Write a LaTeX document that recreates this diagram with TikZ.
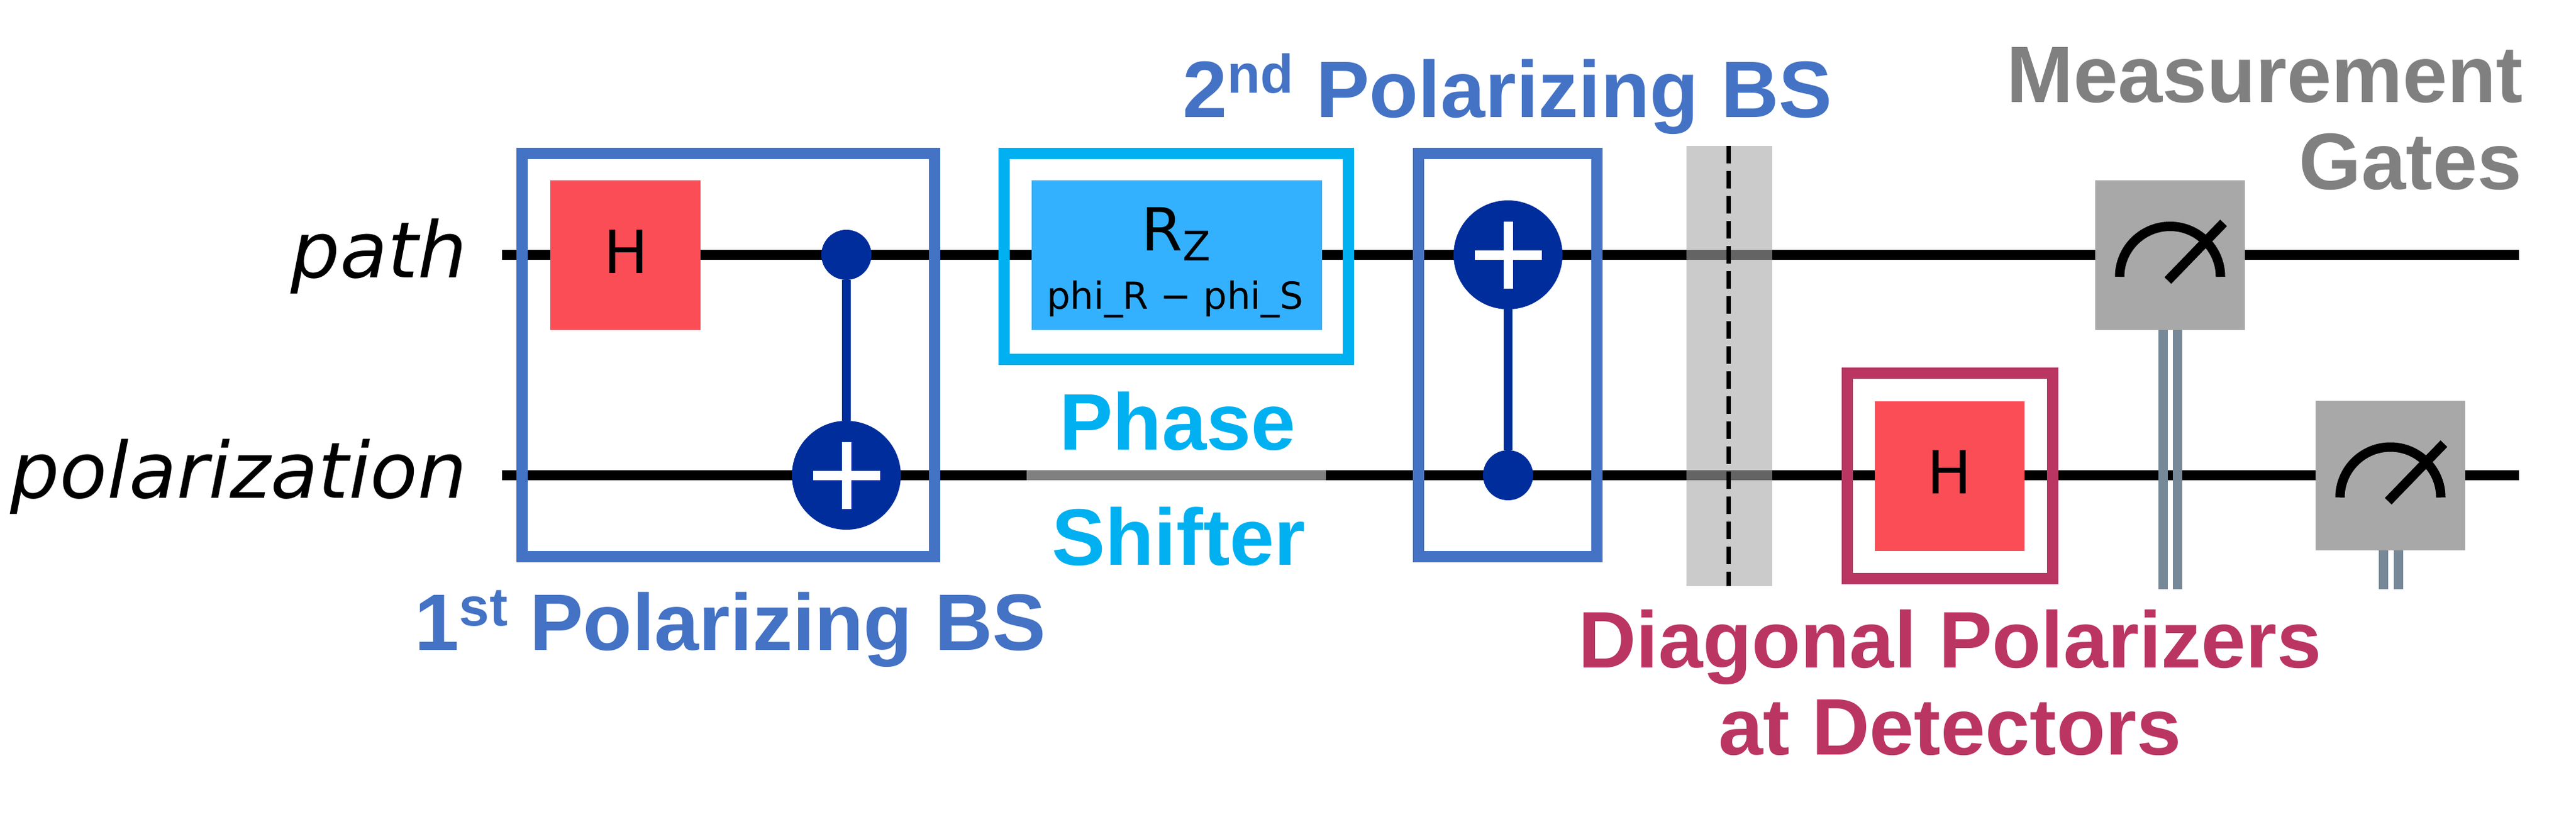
\documentclass[tikz,border=0pt]{standalone}
\usepackage{fontspec}
\setmainfont{Liberation Sans}
\newfontfamily\gatefont{DejaVu Sans}
\definecolor{bsblue}{HTML}{4472C4}
\definecolor{shiftcyan}{HTML}{00B0F0}
\definecolor{polcrimson}{HTML}{BB3562}
\definecolor{hgate}{HTML}{FA4D56}
\definecolor{rzgate}{HTML}{33B1FF}
\definecolor{cxblue}{HTML}{002D9C}
\definecolor{measgrey}{HTML}{A8A8A8}
\definecolor{bitslate}{HTML}{778899}
\newcommand{\raisedord}[1]{\raisebox{0.39cm}{\fontsize{24.7pt}{24.7pt}\selectfont #1}}
\tikzset{
gatebox/.style={inner sep=0, outer sep=0, minimum width=2.39cm, minimum height=2.39cm},
frame/.style={draw, line width=0.18cm, inner sep=0, outer sep=0},
ctrldot/.style={circle, fill=cxblue, inner sep=0, outer sep=0, minimum size=0.8cm},
cxtarget/.style={circle, fill=cxblue, inner sep=0, outer sep=0, minimum size=1.74cm},
wire/.style={line width=0.16cm},
bitline/.style={bitslate, line width=0.15cm},
caption/.style={font=\fontsize{36.4pt}{36.4pt}\selectfont\bfseries, inner sep=0},
qubitname/.style={font=\fontsize{35.3pt}{35.3pt}\selectfont\gatefont\itshape, inner sep=0, anchor=base east},
gatetext/.style={font=\fontsize{27pt}{27pt}\selectfont\gatefont, inner sep=0},
plusmark/.pic={
  \draw[white, line width=0.15cm] (-0.535,0) -- (0.535,0);
  \draw[white, line width=0.15cm] (0,-0.535) -- (0,0.535);
  },
metermark/.pic={
  \draw[line width=0.15cm] (-0.805,-0.35) arc [start angle=180, end angle=0, radius=0.805];
  \draw[line width=0.15cm] (-0.035,-0.41) -- (0.855,0.51);
  }
}
\begin{document}
\begin{tikzpicture}
  \useasboundingbox (0,0) rectangle (41.15,13.15);
  \coordinate (pathin) at (8.02,9.08);
  \coordinate (pathout) at (40.24,9.08);
  \coordinate (polin) at (8.02,5.56);
  \coordinate (polout) at (40.24,5.56);
  \coordinate (shiftin) at (16.40,5.56);
  \coordinate (shiftout) at (21.18,5.56);
  \draw[wire] (pathin) -- (pathout);
  \draw[wire] (polin) -- (polout);
  \draw[wire, gray] (shiftin) -- (shiftout);

  \node[qubitname] (pathname) at (7.47,8.72) {path};
  \node[qubitname] (polname) at (7.47,5.20) {polarization};

  \node[gatebox, fill=hgate, minimum width=2.40cm] (hone) at (9.99,9.075) {};
  \node[gatetext, anchor=base] (honetext) at (10.00,8.79) {H};
  \node[ctrldot] (ctrlone) at (13.52,9.08) {};
  \node[cxtarget] (targone) at (13.52,5.56) {};
  \draw[cxblue, line width=0.14cm] (ctrlone) -- (targone);
  \pic at (targone) {plusmark};
  \node[frame, bsblue, minimum width=6.59cm, minimum height=6.44cm] (bsone) at (11.635,7.48) {};

  \node[gatebox, fill=rzgate, minimum width=4.64cm] (rz) at (18.80,9.075) {};
  \node[gatetext, anchor=base west] (rztext) at (18.23,9.15) {R\raisebox{-0.16cm}{\fontsize{18.5pt}{18.5pt}\selectfont Z}};
  \node[gatetext, anchor=base, font=\fontsize{16.9pt}{16.9pt}\selectfont\gatefont] (rzangle) at (18.77,8.22) {phi\_R − phi\_S};
  \node[frame, shiftcyan, minimum width=5.50cm, minimum height=3.29cm] (shiftframe) at (18.79,9.055) {};

  \node[ctrldot] (ctrltwo) at (24.09,5.56) {};
  \node[cxtarget] (targtwo) at (24.09,9.08) {};
  \draw[cxblue, line width=0.14cm] (ctrltwo) -- (targtwo);
  \pic at (targtwo) {plusmark};
  \node[frame, bsblue, minimum width=2.85cm, minimum height=6.44cm] (bstwo) at (24.085,7.48) {};

  \node[fill=measgrey, fill opacity=0.6, inner sep=0, outer sep=0, minimum width=1.37cm, minimum height=7.03cm] (barrier) at (27.625,7.305) {};
  \coordinate (barriertop) at (27.61,10.82);
  \coordinate (barrierbot) at (27.61,3.79);
  \draw[line width=0.07cm, dash pattern=on 0.28cm off 0.12cm] (barriertop) -- (barrierbot);

  \node[gatebox, fill=hgate] (htwo) at (31.145,5.545) {};
  \node[gatetext, anchor=base] (htwotext) at (31.145,5.27) {H};
  \node[frame, polcrimson, minimum width=3.28cm, minimum height=3.28cm] (polframe) at (31.15,5.55) {};

  \node[gatebox, fill=measgrey] (measone) at (34.665,9.08) {};
  \node[gatebox, fill=measgrey] (meastwo) at (38.185,5.555) {};
  \pic at (measone) {metermark};
  \pic at (meastwo) {metermark};
  \coordinate (bitonea) at (34.555,3.74);
  \coordinate (bitoneb) at (34.785,3.74);
  \coordinate (bittwoa) at (38.075,3.74);
  \coordinate (bittwob) at (38.315,3.74);
  \draw[bitline] (measone.south -| bitonea) -- (bitonea);
  \draw[bitline] (measone.south -| bitoneb) -- (bitoneb);
  \draw[bitline] (meastwo.south -| bittwoa) -- (bittwoa);
  \draw[bitline] (meastwo.south -| bittwob) -- (bittwob);

  \node[caption, bsblue, anchor=base west] (bsonelabel) at (6.62,2.77) {1\raisedord{st} Polarizing BS};
  \node[caption, bsblue, anchor=base west] (bstwolabel) at (18.89,11.27) {2\raisedord{nd} Polarizing BS};
  \node[caption, shiftcyan, anchor=base] (phaselabel) at (18.81,5.97) {Phase};
  \node[caption, shiftcyan, anchor=base] (shifterlabel) at (18.83,4.13) {Shifter};
  \node[caption, polcrimson, anchor=base] (pollabelone) at (31.15,2.49) {Diagonal Polarizers};
  \node[caption, polcrimson, anchor=base] (pollabeltwo) at (31.15,1.10) {at Detectors};
  \node[caption, gray, anchor=base east] (measlabelone) at (40.31,11.51) {Measurement};
  \node[caption, gray, anchor=base east] (measlabeltwo) at (40.29,10.12) {Gates};
\end{tikzpicture}
\end{document}
